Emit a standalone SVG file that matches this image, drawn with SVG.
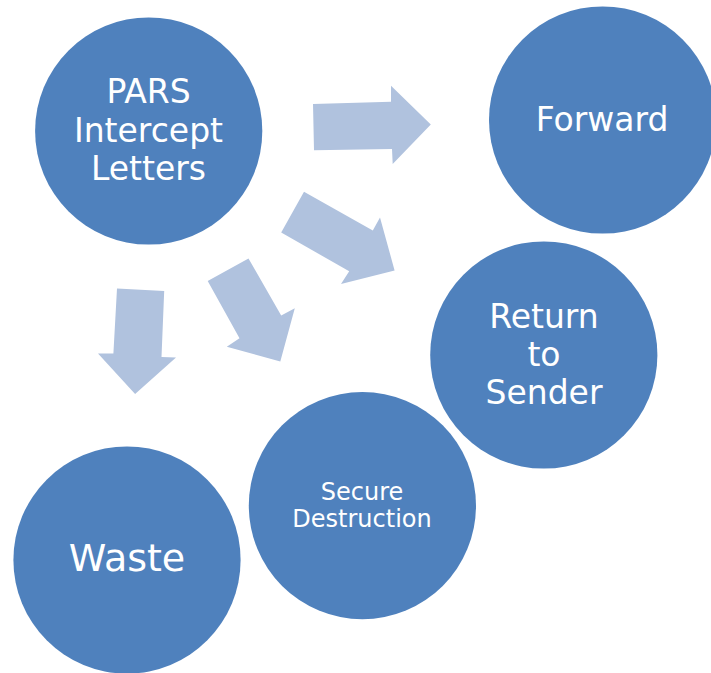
<svg xmlns="http://www.w3.org/2000/svg" width="711" height="673" viewBox="0 0 711 673">
  <style>
    .node { fill: #4f81bd; }
    .arrow { fill: #b0c2de; }
    .label { fill: #ffffff; font-family: "DejaVu Sans", "Liberation Sans", sans-serif; text-anchor: middle; }
    .big { font-size: 33px; }
    .small { font-size: 24px; }
  </style>
  <rect width="711" height="673" fill="#ffffff"/>

  <!-- block arrows from the source circle -->
  <g id="connectors">
    <polygon class="arrow" points="313,104 391,101.7 391,85.8 430.8,124.5 392.7,164 392,149 314,150.2"/>
    <polygon class="arrow" points="304,191.8 372.8,230.5 380,217.6 394.6,270.4 341,284.1 349.2,271.2 281.2,232.6"/>
    <polygon class="arrow" points="248.5,258.4 281.2,315.5 294.8,308.2 280.3,361.4 226.8,346.8 239.5,338.2 207.7,281.1"/>
    <polygon class="arrow" points="117,288.4 164.2,291 161.5,357.1 176,357.5 135.1,394 98,353.6 113.4,353.6"/>
  </g>

  <g id="pars">
    <circle class="node" cx="148.7" cy="131" r="113.6"/>
    <text class="label big" x="148.5" y="103">PARS</text>
    <text class="label big" x="148.5" y="141.5">Intercept</text>
    <text class="label big" x="148.5" y="180">Letters</text>
  </g>

  <g id="forward">
    <circle class="node" cx="602.6" cy="120" r="113.6"/>
    <text class="label big" x="602" y="131">Forward</text>
  </g>

  <g id="return">
    <circle class="node" cx="543.8" cy="355" r="113.6"/>
    <text class="label big" x="544" y="328">Return</text>
    <text class="label big" x="544" y="366">to</text>
    <text class="label big" x="544" y="404">Sender</text>
  </g>

  <g id="secure">
    <circle class="node" cx="362.4" cy="505.6" r="113.6"/>
    <text class="label small" x="362" y="499.5">Secure</text>
    <text class="label small" x="362" y="527">Destruction</text>
  </g>

  <g id="waste">
    <circle class="node" cx="127" cy="560" r="113.6"/>
    <text class="label" font-size="38" x="127" y="571">Waste</text>
  </g>
</svg>
